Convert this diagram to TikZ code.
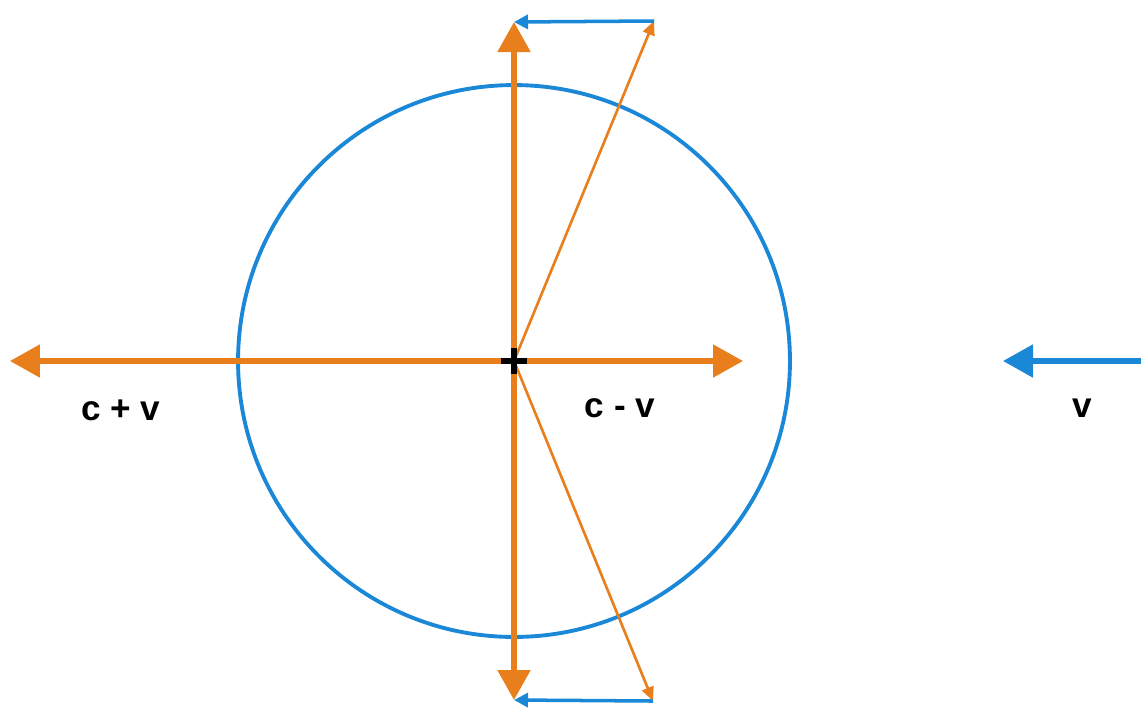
\documentclass[tikz,border=0pt]{standalone}
\usepackage{fontspec}
\setsansfont{Liberation Sans}
\usepackage{xcolor}
\usepackage{tikz}
\usetikzlibrary{arrows.meta,positioning}
\definecolor{waveOrange}{HTML}{E97E1C}
\definecolor{waveBlue}{HTML}{1A88D6}

\begin{document}
\begin{tikzpicture}[
    x=0.02cm, y=-0.02cm,
    every node/.style={font=\sffamily\bfseries\fontsize{20}{22}\selectfont, inner sep=0pt},
    axis/.style={draw=waveOrange, line width=3pt, -{Triangle[length=6mm,width=6.4mm]}},
    slant/.style={draw=waveOrange, line width=1.5pt, -{Triangle[length=2.8mm,width=2.4mm]}},
    drift/.style={draw=waveBlue, line width=2pt, -{Triangle[length=2.8mm,width=2.8mm]}},
    wind/.style={draw=waveBlue, line width=3pt, -{Triangle[length=6mm,width=6.4mm]}}
]
    \useasboundingbox (0,0) rectangle (1141,711);

    \coordinate (ctr) at (514,361);
    \coordinate (west) at (10,361);
    \coordinate (east) at (743,361);
    \coordinate (north) at (514,22);
    \coordinate (south) at (514,700);
    \coordinate (ne) at (654,21);
    \coordinate (se) at (653,701);
    \coordinate (vstart) at (1141,361);
    \coordinate (vend) at (1003,361);

    % wave front
    \draw[waveBlue, line width=2.2pt] (ctr) circle [radius=5.52cm];

    % sound speeds
    \draw[axis] (ctr) -- (west);
    \draw[axis] (ctr) -- (east);
    \draw[axis] (ctr) -- (north);
    \draw[axis] (ctr) -- (south);
    \draw[slant] (ctr) -- (ne);
    \draw[slant] (ctr) -- (se);
    \draw[drift] (ne) -- (north);
    \draw[drift] (se) -- (south);

    % wind
    \draw[wind] (vstart) -- (vend);

    % source
    \draw[black, line width=3.6pt] (501,361) -- (527,361) (514,348) -- (514,374);

    \node (cplus) at (121,410) {c + v};
    \node (cminus) at (620,408) {c - v};
    \node (vlabel) at (1082,408) {v};
\end{tikzpicture}
\end{document}
